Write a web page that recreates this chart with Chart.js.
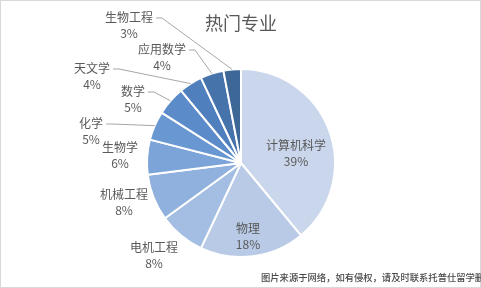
<!DOCTYPE html>
<html>
<head>
<meta charset="utf-8">
<script src="https://cdn.jsdelivr.net/npm/chart.js@4/dist/chart.umd.min.js"></script>
<style>
  body { margin: 0; background: #fff; }
  #wrap { width: 481px; height: 288px; position: relative; }
</style>
</head>
<body>
<div id="wrap"><canvas id="myChart" width="481" height="288"></canvas></div>
<script>
const chartTitle = "热门专业";
const majors = ["计算机科学", "物理", "电机工程", "机械工程", "生物学", "化学", "数学", "天文学", "应用数学", "生物工程"];
const shares = [39, 18, 8, 8, 6, 5, 5, 4, 4, 3];
const sliceColors = ["#cad6eb", "#b8cae6", "#a3bee2", "#90b1dd", "#7ca4d8", "#6997d2", "#5b8cc9", "#4f80bd", "#4673aa", "#3c6797"];
const footNote = "图片来源于网络，如有侵权，请及时联系托普仕留学删除";

// where each label sits, offset from the pie centre (px); leader = draw a line to the slice
const labelSpots = [
  { dx: 55, dy: -10, leader: false },
  { dx: 7, dy: 73, leader: false },
  { dx: -87, dy: 92, leader: false },
  { dx: -117, dy: 39, leader: false },
  { dx: -121, dy: -8, leader: false },
  { dx: -150, dy: -32, leader: true },
  { dx: -108, dy: -64, leader: true },
  { dx: -149, dy: -87, leader: true },
  { dx: -79, dy: -106, leader: true },
  { dx: -112, dy: -138, leader: true },
];

const textColor = "#595959";
const fontFamily = "'Noto Sans CJK SC', 'Microsoft YaHei', sans-serif";

const labelPlugin = {
  id: "pieLabels",
  afterDraw(chart) {
    const ctx = chart.ctx;
    const arcs = chart.getDatasetMeta(0).data;
    ctx.save();

    // frame
    ctx.strokeStyle = "#d9d9d9";
    ctx.lineWidth = 1;
    ctx.strokeRect(0.5, 0.5, chart.width - 1, chart.height - 1);

    // title
    ctx.fillStyle = textColor;
    ctx.font = "18px " + fontFamily;
    ctx.textAlign = "center";
    ctx.textBaseline = "middle";
    const cx = arcs[0].x;
    ctx.fillText(chartTitle, cx, 23);

    ctx.font = "12px " + fontFamily;
    arcs.forEach((arc, i) => {
      const spot = labelSpots[i];
      const lx = arc.x + spot.dx;
      const ly = arc.y + spot.dy;
      const name = majors[i];
      const pct = shares[i] + "%";
      ctx.fillStyle = textColor;
      ctx.fillText(name, lx, ly - 8);
      ctx.fillText(pct, lx, ly + 8);
      if (spot.leader) {
        const mid = (arc.startAngle + arc.endAngle) / 2;
        const ex = arc.x + Math.cos(mid) * arc.outerRadius;
        const ey = arc.y + Math.sin(mid) * arc.outerRadius;
        const w = ctx.measureText(name).width;
        const sx = lx + w / 2 + 3;
        const sy = ly - 7;
        ctx.strokeStyle = "#a6a6a6";
        ctx.lineWidth = 1;
        ctx.beginPath();
        ctx.moveTo(sx, sy);
        ctx.lineTo(sx + 6, sy);
        ctx.lineTo(ex, ey);
        ctx.stroke();
      }
    });

    // watermark
    ctx.font = "500 9.3px " + fontFamily;
    ctx.textAlign = "left";
    ctx.fillStyle = "#4a4a4a";
    ctx.fillText(footNote, 261, 277);
    ctx.restore();
  },
};

const myChart = new Chart(document.getElementById("myChart"), {
  type: "pie",
  data: {
    labels: majors,
    datasets: [
      {
        data: shares,
        backgroundColor: sliceColors,
        borderColor: "#ffffff",
        borderWidth: 2,
      },
    ],
  },
  options: {
    responsive: false,
    animation: false,
    layout: { padding: { left: 146, right: 145, top: 68, bottom: 30 } },
    plugins: {
      legend: { display: false },
      tooltip: { enabled: false },
      title: { display: false },
    },
  },
  plugins: [labelPlugin],
});
</script>
</body>
</html>
